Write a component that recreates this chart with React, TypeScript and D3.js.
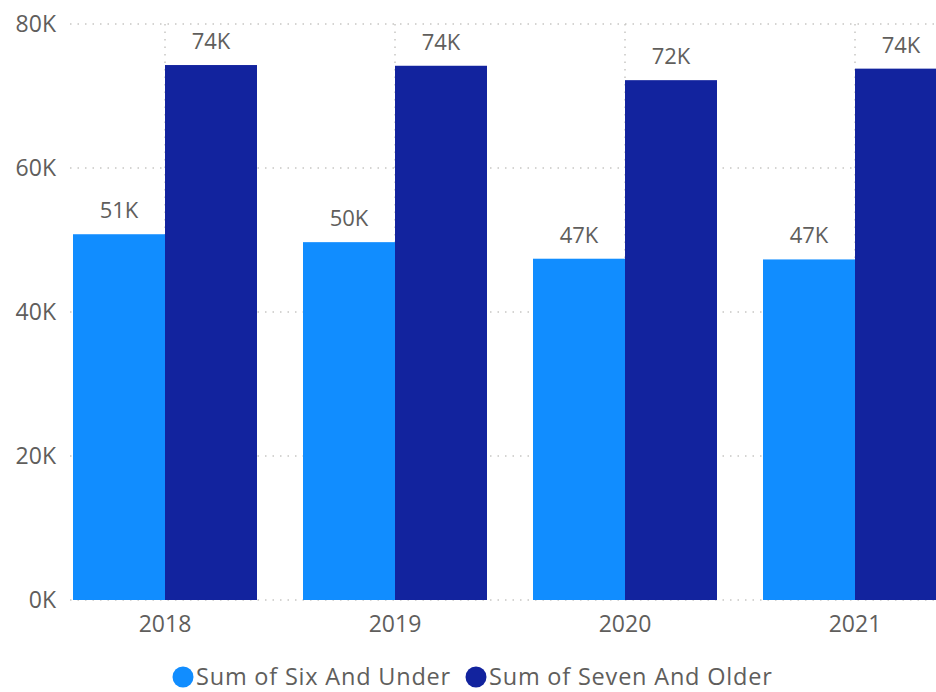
import React from "react";
import * as d3 from "d3";

const categories = ["2018", "2019", "2020", "2021"];
const sixAndUnder = [50800, 49700, 47400, 47300];
const sevenAndOlder = [74300, 74200, 72200, 73800];
const seriesNames = ["Sum of Six And Under", "Sum of Seven And Older"];
const yTicks = [0, 20000, 40000, 60000, 80000];

const W = 936;
const H = 692;
const colors = ["#118DFF", "#12239E"];
const textColor = "#605E5C";
const gridColor = "#C8C6C4";
const font = "'Open Sans', 'Noto Sans', sans-serif";

export default function App() {
  const y = d3.scaleLinear().domain([0, 80000]).range([600, 24]);
  const x = d3
    .scaleBand<string>()
    .domain(categories)
    .range([50, 970])
    .paddingInner(0.2)
    .paddingOuter(0.1);
  const x1 = d3.scaleBand<number>().domain([0, 1]).range([0, x.bandwidth()]);
  const fmt = (v: number) => `${Math.round(v / 1000)}K`;
  const series = [sixAndUnder, sevenAndOlder];
  const legendX = [183, 476];

  return (
    <div style={{ position: "fixed", left: 0, top: 0 }}>
      <svg width={W} height={H} style={{ display: "block", fontFamily: font }}>
        <rect width={W} height={H} fill="#fff" />
        {yTicks.map((t) => (
          <g key={t}>
            <line
              x1={70}
              x2={W}
              y1={y(t)}
              y2={y(t)}
              stroke={gridColor}
              strokeWidth={1.5}
              strokeDasharray="1.5,6"
            />
            <text x={56} y={y(t)} dy="0.35em" textAnchor="end" fontSize={23} fill={textColor}>
              {fmt(t)}
            </text>
          </g>
        ))}
        {categories.map((c) => (
          <line
            key={c}
            x1={x(c)! + x.bandwidth() / 2}
            x2={x(c)! + x.bandwidth() / 2}
            y1={y(80000)}
            y2={y(0)}
            stroke={gridColor}
            strokeWidth={1.5}
            strokeDasharray="1.5,6"
          />
        ))}
        {categories.map((c, i) => (
          <g key={c} transform={`translate(${x(c)},0)`}>
            {series.map((s, k) => (
              <g key={k}>
                <rect
                  x={x1(k)}
                  y={y(s[i])}
                  width={x1.bandwidth()}
                  height={y(0) - y(s[i])}
                  fill={colors[k]}
                />
                <text
                  x={x1(k)! + x1.bandwidth() / 2}
                  y={y(s[i]) - 16}
                  textAnchor="middle"
                  fontSize={22}
                  fill={textColor}
                >
                  {fmt(s[i])}
                </text>
              </g>
            ))}
            <text
              x={x.bandwidth() / 2}
              y={632}
              textAnchor="middle"
              fontSize={23}
              fill={textColor}
            >
              {c}
            </text>
          </g>
        ))}
        {seriesNames.map((n, k) => {
          const lx = legendX[k];
          return (
            <g key={n}>
              <circle cx={lx} cy={677} r={10.5} fill={colors[k]} />
              <text x={lx + 13} y={685} fontSize={23.5} letterSpacing={0.8} fill={textColor}>
                {n}
              </text>
            </g>
          );
        })}
      </svg>
    </div>
  );
}
